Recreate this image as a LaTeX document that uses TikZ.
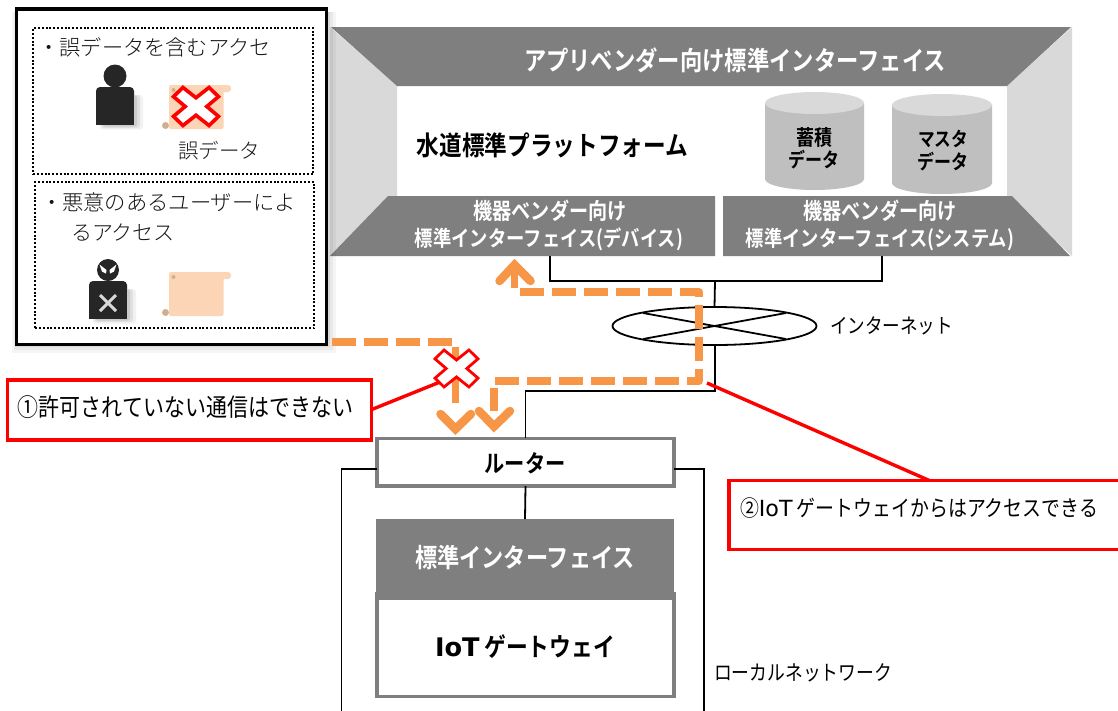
\documentclass[tikz,border=0pt]{standalone}
\usepackage{graphicx}
\usepackage{fontspec}
\usetikzlibrary{shapes.geometric}
\newfontfamily\jp[FakeStretch=0.85,BoldFont={Noto Sans CJK JP Bold}]{Noto Sans CJK JP}
\newfontfamily\mc{Noto Sans CJK JP Light}
\newfontfamily\vd[BoldFont={DejaVu Sans Bold}]{DejaVu Sans}
\newcommand\fw[2]{\resizebox{#1pt}{!}{\fontsize{20}{24}\selectfont #2}}
\definecolor{dkgray}{HTML}{7F7F7F}
\definecolor{panelgray}{HTML}{D9D9D9}
\definecolor{cylbody}{HTML}{BFBFBF}
\definecolor{orangeline}{HTML}{F79646}
\definecolor{scrollbody}{HTML}{FBD5B5}
\definecolor{scrollcurl}{HTML}{D2AE90}
\definecolor{personc}{HTML}{262626}
\tikzset{
  lbl/.style={inner sep=0pt,outer sep=0pt,anchor=center,font=\jp},
  wlbl/.style={lbl,text=white},
  mctext/.style={inner sep=0pt,outer sep=0pt,anchor=west,font=\mc,text=black!92},
  wire/.style={draw=black,line width=1.8pt},
  thinwire/.style={draw=black,line width=1.6pt},
  graybox/.style={draw=dkgray,line width=3.5pt,fill=white,inner sep=0pt,outer sep=0pt},
  callout/.style={draw=red,line width=3.8pt,fill=white,inner sep=0pt,outer sep=0pt},
  calline/.style={draw=red,line width=3.4pt},
  dotbox/.style={draw=black,line width=2pt,dash pattern=on 2pt off 1.8pt},
  route/.style={draw=orangeline,line width=7.5pt,dash pattern=on 24pt off 8pt,line join=round},
  routehead/.style={draw=orangeline,line width=8.5pt,line cap=round,line join=miter},
  routeshaft/.style={draw=orangeline,line width=7.5pt},
}
% cross mark: centre, half width, half height, line width
\newcommand\crossmk[5]{%
  \begin{scope}[shift={(#1,#2)},x=#3pt,y=#4pt]
    \filldraw[draw=red,fill=white,line width=#5pt,line join=miter]
      (0,-.46)--(.58,-1)--(1,-.52)--(.48,0)--(1,.52)--(.58,1)--(0,.46)--(-.58,1)--(-1,.52)--(-.48,0)--(-1,-.52)--(-.58,-1)--cycle;
  \end{scope}}
% scroll: top y
\newcommand\scrollmk[1]{%
  \begin{scope}[shift={(0,#1)}]
    \fill[scrollcurl] (165.5,40.5) circle (3.5);
    \fill[scrollbody,rounded corners=2pt] (169,0) rectangle (223.5,44);
    \fill[scrollbody,rounded corners=3pt] (215,0) rectangle (231,7);
    \fill[scrollcurl] (173.5,5) circle (2);
  \end{scope}}
% person: left x, top y of body
\newcommand\personbody[2]{%
  \foreach \e/\o in {9/.05,6/.07,3/.09}{
    \fill[black,opacity=\o,rounded corners=3pt] (#1+8-\e/2,#2+8) rectangle (#1+38+\e,#2+38+\e/2);}
  \fill[personc,rounded corners=4pt] (#1,#2+12) -- (#1,#2) -- (#1+38,#2) -- (#1+38,#2+12) -- cycle;
  \fill[personc] (#1,#2+8) rectangle (#1+38,#2+38);}
\begin{document}
\begin{tikzpicture}[x=1pt,y=-1pt]
\clip (0,0) rectangle (1118,710);
\fill[white] (0,0) rectangle (1118,710);

% ---- platform
\fill[panelgray] (330,27) -- (397,86) -- (397,196) -- (330,256) -- cycle;
\fill[panelgray] (1072,27) -- (1007,86) -- (1007,196) -- (1072,256) -- cycle;
\fill[dkgray] (331,27) -- (1071,27) -- (1007,86) -- (397,86) -- cycle;
\fill[dkgray] (388,196) -- (715,196) -- (715,256) -- (330,256) -- cycle;
\fill[dkgray] (723,196) -- (1012,196) -- (1070,256) -- (723,256) -- cycle;
\node[wlbl] (apptitle) at (735,60) {\fw{422}{\bfseries アプリベンダー向け標準インターフェイス}};
\node[lbl] (platform) at (552.5,145) {\fw{271}{\bfseries 水道標準プラットフォーム}};
\node[wlbl] (dev1) at (550,211) {\fw{153}{\bfseries 機器ベンダー向け}};
\node[wlbl] (dev2) at (549,239) {\fw{268}{\bfseries 標準インターフェイス(デバイス)}};
\node[wlbl] (sys1) at (880,211) {\fw{153}{\bfseries 機器ベンダー向け}};
\node[wlbl] (sys2) at (880,239) {\fw{268}{\bfseries 標準インターフェイス(システム)}};

% cylinders
\fill[cylbody] (765,103) -- (765,179) arc[start angle=180,end angle=0,x radius=49.5,y radius=11] -- (864,103) -- cycle;
\fill[panelgray] (814.5,103) ellipse[x radius=49.5,y radius=11];
\fill[cylbody] (892,105) -- (892,183) arc[start angle=180,end angle=0,x radius=50,y radius=11] -- (992,105) -- cycle;
\fill[panelgray] (942,105) ellipse[x radius=50,y radius=11];
\node[lbl] (cyla1) at (814,137) {\fw{36}{\bfseries 蓄積}};
\node[lbl] (cyla2) at (814,160) {\fw{51}{\bfseries データ}};
\node[lbl] (cylb1) at (943,139) {\fw{50}{\bfseries マスタ}};
\node[lbl] (cylb2) at (943,162) {\fw{51}{\bfseries データ}};

% ---- network
\coordinate (devport) at (550,256);
\coordinate (sysport) at (882,256);
\coordinate (busL) at (550,281);
\coordinate (busR) at (882,281);
\coordinate (busT) at (715,281);
\node[ellipse,draw=black,line width=1.8pt,fill=white,minimum width=204pt,minimum height=38pt,inner sep=0pt,outer sep=0pt] (inet) at (714.5,326) {};
\coordinate (xa) at (643,313);
\coordinate (xb) at (786,339);
\coordinate (xc) at (643,339);
\coordinate (xd) at (786,313);
\draw[wire] (xa) -- (xb);
\draw[wire] (xc) -- (xd);
\draw[wire] (devport) -- (busL) -- (busR) -- (sysport);
\draw[wire] (busT) -- (inet.north);
\node[lbl] (inetlbl) at (891.5,326) {\fw{123}{インターネット}};

% local network and router
\node[graybox,minimum width=297pt,minimum height=102.7pt] (iot) at (525.5,645.3) {};
\node[draw=none,fill=dkgray,minimum width=298pt,minimum height=81pt,inner sep=0pt,outer sep=0pt] (stdif) at (525,559.5) {};
\node[graybox,minimum width=297pt,minimum height=47.7pt] (router) at (525.5,462.2) {};
\coordinate (lanL) at (341.5,469);
\coordinate (lanR) at (704,469);
\coordinate (lanLb) at (341.5,712);
\coordinate (lanRb) at (704,712);
\coordinate (routerW) at (router.west |- lanL);
\coordinate (routerE) at (router.east |- lanR);
\draw[thinwire] (routerW) -- (lanL) -- (lanLb);
\draw[thinwire] (routerE) -- (lanR) -- (lanRb);
\draw[wire] (router.south) -- (stdif.north);
\coordinate (wanA) at (715,391);
\coordinate (wanB) at (router.north |- wanA);
\draw[wire] (inet.south -| wanA) -- (wanA) -- (wanB) -- (router.north);
\node[lbl] (routerlbl) at (525,463) {\fw{81}{\bfseries ルーター}};
\node[wlbl] (stdlbl) at (525,558) {\fw{220}{\bfseries 標準インターフェイス}};
\node[lbl] (iotlbl) at (525,647) {\fw{180}{{\vd\bfseries IoT} \bfseries ゲートウェイ}};
\node[lbl] (lanlbl) at (803,673) {\fw{178}{ローカルネットワーク}};

% ---- left panel
\foreach \e/\o in {8/.04,5/.05,2/.07}{
  \fill[black,opacity=\o] (16-\e/2,9+3) rectangle (328+\e,345+\e);}
\node[draw=black,line width=3.5pt,fill=white,minimum width=310pt,minimum height=335.3pt,inner sep=0pt,outer sep=0pt] (leftpanel) at (171.7,176.6) {};
\node[dotbox,minimum width=280pt,minimum height=146pt,inner sep=0pt,outer sep=0pt] (box1) at (173.2,101.3) {};
\node[dotbox,minimum width=279pt,minimum height=146pt,inner sep=0pt,outer sep=0pt] (box2) at (174.7,255.3) {};
\node[mctext] (t1) at (38.5,47) {\fontsize{21.2}{24}\selectfont ・誤データを含むアクセ};
\node[mctext] (t2) at (178,151) {\fontsize{20.5}{24}\selectfont 誤データ};
\node[mctext] (t3) at (41,202) {\fontsize{21.3}{24}\selectfont ・悪意のあるユーザーによ};
\node[mctext] (t4) at (71,233) {\fontsize{21}{24}\selectfont るアクセス};

\personbody{96}{87}
\fill[personc] (115,76) circle (11.5);
\scrollmk{85}
\crossmk{196}{106.5}{22.5}{19}{3.6}

\personbody{89}{281}
\fill[personc] (108,270) circle (11);
\fill[white] (99.5,264.5) -- (106.5,270) -- (106,273.5) -- (102,271.5) -- cycle;
\fill[white] (116.5,264.5) -- (109.5,270) -- (110,273.5) -- (114,271.5) -- cycle;
\draw[panelgray,line width=3pt] (100,295) -- (116,311) (116,295) -- (100,311);
\scrollmk{272}

% ---- routes
\coordinate (ra) at (332,342);
\coordinate (rb) at (455.5,342);
\coordinate (rc) at (455.5,402.5);
\draw[route] (ra) -- (rb) -- (rc);
\coordinate (h1a) at (440.5,414);
\coordinate (h1t) at (455.5,429);
\coordinate (h1b) at (471,414);
\draw[routehead] (h1a) -- (h1t) -- (h1b);

\coordinate (sa) at (520,292);
\coordinate (sb) at (699,292);
\coordinate (sc) at (699,381);
\coordinate (sd) at (494,381);
\coordinate (se) at (494,411);
\draw[route] (sa) -- (sb) -- (sc) -- (sd) -- (se);
\coordinate (h2a) at (479,411);
\coordinate (h2t) at (494,426.5);
\coordinate (h2b) at (510,411);
\draw[routehead] (h2a) -- (h2t) -- (h2b);

\coordinate (u0) at (514.5,288);
\coordinate (u1) at (514.5,265);
\coordinate (h3a) at (499.5,281);
\coordinate (h3b) at (530.5,281);
\draw[routeshaft] (u0) -- (u1);
\draw[routehead] (h3a) -- (u1) -- (h3b);

% ---- callouts
\node[callout,minimum width=364pt,minimum height=60pt] (call1) at (189.5,409.6) {};
\node[lbl,anchor=west] (call1t) at (18,407) {\fw{335}{①許可されていない通信はできない}};
\coordinate (xtip) at (440,382);
\draw[calline] (call1.east) -- (xtip);
\crossmk{456.5}{368.5}{21.5}{18.5}{2.8}

\node[callout,minimum width=400pt,minimum height=69pt] (call2) at (929.3,515) {};
\node[lbl,anchor=west] (call2t) at (740,508) {\fw{358}{②{\vd IoT} ゲートウェイからはアクセスできる}};
\coordinate (gw) at (707,383);
\draw[calline] (gw) -- (call2.north);
\end{tikzpicture}
\end{document}
